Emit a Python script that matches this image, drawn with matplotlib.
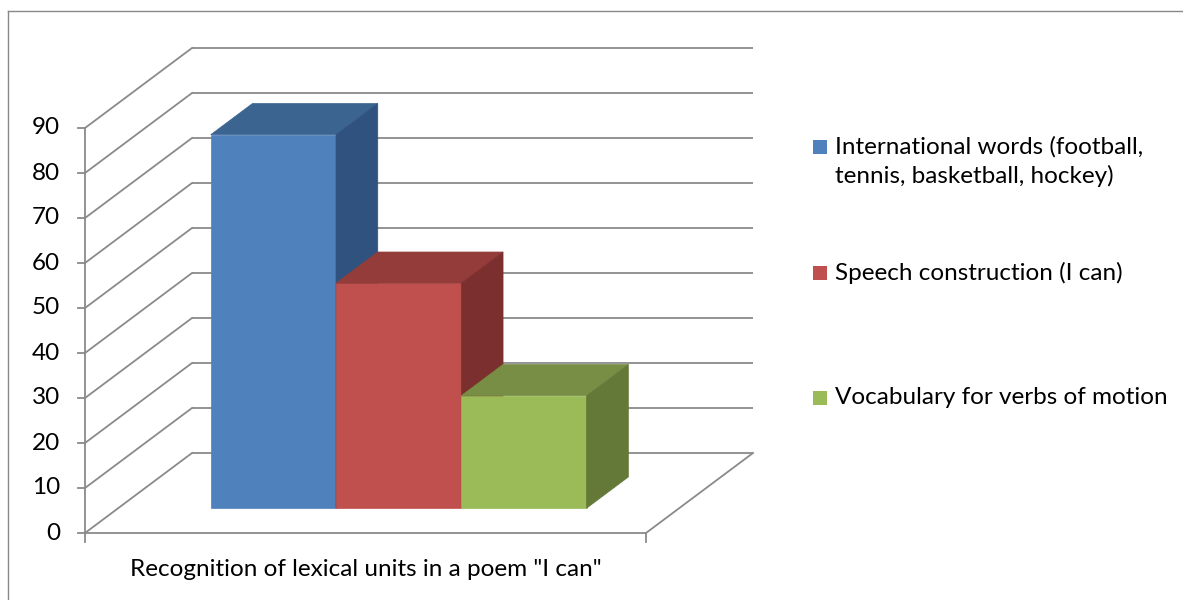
import numpy as np
import matplotlib.pyplot as plt
from matplotlib.patches import Polygon, Rectangle
from matplotlib.lines import Line2D

plt.rcParams['font.family'] = ['Lato', 'DejaVu Sans']

# data
series = ['International words (football,\ntennis, basketball, hockey)',
          'Speech construction (I can)',
          'Vocabulary for verbs of motion']
values = [83, 50, 25]
category = 'Recognition of lexical units in a poem "I can"'
yticks = np.arange(0, 100, 10)

front_colors = ['#4F81BD', '#C0504D', '#9BBB59']
top_colors = ['#3C6490', '#943C3A', '#778E44']
side_colors = ['#30527E', '#7B302F', '#647938']

# oblique projection (depth d goes 0 front -> 1 back)
PXX, PXY = 561.0, 4.5   # pixels per x unit / per value unit
DX, DY = 107 / PXX, 80 / PXY
FS = 17.5


def proj(x, y, d):
    return x + d * DX, y + d * DY


fig = plt.figure(figsize=(11.83, 6), dpi=100)
ax = fig.add_axes([0, 0, 1, 1])
ax.set_xlim(-85 / PXX, (1183 - 85) / PXX)
ax.set_ylim(-(600 - 533) / PXY, 533 / PXY)
ax.axis('off')

gc = '#8A8A8A'
lw = 1.3
# walls gridlines
for t in yticks:
    x0, y0 = proj(0, t, 1)
    x1, y1 = proj(1, t, 1)
    ax.plot([x0, x1], [y0, y1], color=gc, lw=lw, solid_capstyle='butt')
    ax.plot([0, x0], [t, y0], color=gc, lw=lw)
    ax.plot([-7 / PXX, 0], [t, t], color=gc, lw=lw)
    ax.text(-25 / PXX, t, str(t), ha='right', va='center', fontsize=FS, color='#000000')

# front axis and floor
ax.plot([0, 0], [0, yticks[-1]], color=gc, lw=lw)
ax.plot([0, 1], [0, 0], color=gc, lw=lw)
ax.plot([0, 0], [0, -9 / PXY], color=gc, lw=lw)
ax.plot([1, 1], [0, -9 / PXY], color=gc, lw=lw)
fx, fy = proj(1, 0, 1)
ax.plot([1, fx], [0, fy], color=gc, lw=lw)

# bars
gap = 0.165
w = (1 - 2 * gap) / len(values)
d0, d1 = 0.31, 0.70
for i, v in enumerate(values):
    xl = gap + i * w
    xr = xl + w
    front = [proj(xl, 0, d0), proj(xr, 0, d0), proj(xr, v, d0), proj(xl, v, d0)]
    top = [proj(xl, v, d0), proj(xr, v, d0), proj(xr, v, d1), proj(xl, v, d1)]
    side = [proj(xr, 0, d0), proj(xr, 0, d1), proj(xr, v, d1), proj(xr, v, d0)]
    for pts, c in ((front, front_colors[i]), (top, top_colors[i]), (side, side_colors[i])):
        ax.add_patch(Polygon(pts, closed=True, facecolor=c, edgecolor=c, lw=0.5, zorder=3))

# category label
ax.text(0.5, -(570 - 533) / PXY, category, ha='center', va='center', fontsize=FS)

# legend
leg_y = [(533 - 147) / PXY, (533 - 273) / PXY, (533 - 398) / PXY]
sq = 14
for i, lab in enumerate(series):
    ax.add_patch(Rectangle(((813 - 85) / PXX, leg_y[i] - sq / 2 / PXY), sq / PXX, sq / PXY,
                           facecolor=front_colors[i], edgecolor='none'))
    for j, line in enumerate(lab.split('\n')):
        ax.text((835 - 85) / PXX, leg_y[i] - j * 29 / PXY, line, ha='left', va='center',
                fontsize=FS)

# chart border
fig.add_artist(Line2D([8 / 1183, 8 / 1183], [0, 1 - 11 / 600], color='#888888', lw=1))
fig.add_artist(Line2D([8 / 1183, 1], [1 - 11 / 600, 1 - 11 / 600], color='#888888', lw=1))

fig.savefig('out.png', dpi=100)
